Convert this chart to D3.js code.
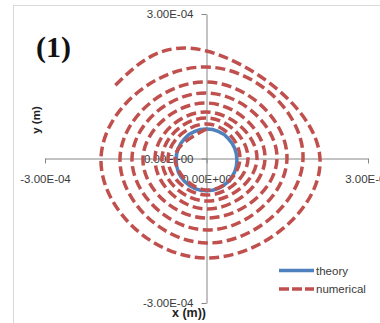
<!DOCTYPE html>
<html><head><meta charset="utf-8">
<script src="https://cdn.jsdelivr.net/npm/d3@7"></script>
<style>
html,body{margin:0;padding:0;background:#fff;}
svg{display:block;font-family:"Liberation Sans",Arial,sans-serif;}
</style></head>
<body>
<svg id="chart" width="380" height="323"></svg>
<script>
// ---- data (metres) ----
const axisTicks = [-3e-4, 0, 3e-4];
const xTickLabels = ["-3.00E-04", "0.00E+00", "3.00E-04"];
const yTickLabels = ["-3.00E-04", "0.00E+00", "3.00E-04"];
const seriesNames = ["theory", "numerical"];
// theory circle: extreme points (left, top, right, bottom)
const theoryX = [-5.65e-5, 0, 5.65e-5, 0];
const theoryY = [-3e-6, 6.1e-5, -3e-6, -6.7e-5];
// numerical spiral: axis crossings, in drawing order
const numX = [0, -5.85e-5, 0, 6.22e-5, 0, -7.15e-5, 0, 7.71e-5, 0, -8.27e-5, 0, 9.38e-5, 0, -9.57e-5, 0, 1.087e-4,
              0, -1.180e-4, 0, 1.310e-4, 0, -1.384e-4, 0, 1.495e-4, 0, -1.607e-4, 0, 1.793e-4, 0, -1.960e-4, 0, 2.108e-4,
              0, -1.731e-4];
const numY = [6.12e-5, 0, -6.54e-5, 0, 7.16e-5, 0, -7.58e-5, 0, 8.41e-5, 0, -8.82e-5, 0, 9.65e-5, 0, -1.048e-4, 0,
              1.152e-4, 0, -1.235e-4, 0, 1.360e-4, 0, -1.484e-4, 0, 1.588e-4, 0, -1.754e-4, 0, 1.900e-4, 0, -2.066e-4, 0,
              2.232e-4, 1.478e-4];

const blue = "#4f81bd", red = "#c0504d";
const svg = d3.select("#chart");

// chart border
svg.append("rect").attr("x", 13.5).attr("y", 5.5).attr("width", 420).attr("height", 420)
  .attr("fill", "#fff").attr("stroke", "#d9d9d9").attr("stroke-width", 1);

const x = d3.scaleLinear().domain([-3e-4, 3e-4]).range([45, 368]);
const y = d3.scaleLinear().domain([-3e-4, 3e-4]).range([303, 14]);

// axes
const xAxis = d3.axisBottom(x).tickValues(axisTicks).tickSize(5).tickSizeOuter(0).tickPadding(11)
  .tickFormat((d, i) => xTickLabels[i]);
const yAxis = d3.axisLeft(y).tickValues(axisTicks).tickSize(5).tickSizeOuter(0).tickPadding(8)
  .tickFormat((d, i) => yTickLabels[i]);

const gx = svg.append("g").attr("transform", `translate(0,${y(0)})`).call(xAxis);
const gy = svg.append("g").attr("transform", `translate(${x(0)},0)`).call(yAxis);
[gx, gy].forEach(g => {
  g.select(".domain").attr("stroke", "#868686");
  g.selectAll(".tick line").attr("stroke", "#868686");
  g.selectAll(".tick text").attr("fill", "#3a3a3a").style("font-size", "11.5px")
    .style("font-family", '"Liberation Sans", Arial, sans-serif');
});

// theory circle
const tcx = x((theoryX[0] + theoryX[2]) / 2), tcy = y((theoryY[1] + theoryY[3]) / 2);
svg.append("ellipse")
  .attr("cx", tcx).attr("cy", tcy)
  .attr("rx", (x(theoryX[2]) - x(theoryX[0])) / 2)
  .attr("ry", (y(theoryY[3]) - y(theoryY[1])) / 2)
  .attr("fill", "none").attr("stroke", blue).attr("stroke-width", 3.5);

// numerical spiral
const pts = numX.map((v, i) => [v, numY[i]]);
const line = d3.line().x(d => x(d[0])).y(d => y(d[1])).curve(d3.curveNatural);
svg.append("path").attr("d", line(pts))
  .attr("fill", "none").attr("stroke", red).attr("stroke-width", 3.5)
  .attr("stroke-dasharray", "10,4.5");

// axis titles
svg.append("text").attr("transform", "translate(40,120) rotate(-90)")
  .attr("text-anchor", "middle").attr("font-weight", "bold").attr("font-size", 11.5).attr("fill", "#222")
  .text("y (m)");
svg.append("text").attr("x", 189).attr("y", 317)
  .attr("text-anchor", "middle").attr("font-weight", "bold").attr("font-size", 12.5).attr("fill", "#222")
  .text("x (m))");

// panel label
svg.append("text").attr("x", 36).attr("y", 57)
  .attr("font-family", '"Liberation Serif", "Times New Roman", serif')
  .attr("font-weight", "bold").attr("font-size", 30).attr("fill", "#111")
  .text("(1)");

// legend
const leg = svg.append("g");
const legY = [270.5, 289];
seriesNames.forEach((name, i) => {
  leg.append("line").attr("x1", 279).attr("x2", 314).attr("y1", legY[i]).attr("y2", legY[i])
    .attr("stroke", i === 0 ? blue : red).attr("stroke-width", 3.5)
    .attr("stroke-dasharray", i === 0 ? null : "10,3");
  leg.append("text").attr("x", 316).attr("y", legY[i]).attr("dy", "0.35em")
    .attr("font-size", 11.5).attr("fill", "#3a3a3a").text(name);
});
</script>
</body></html>
